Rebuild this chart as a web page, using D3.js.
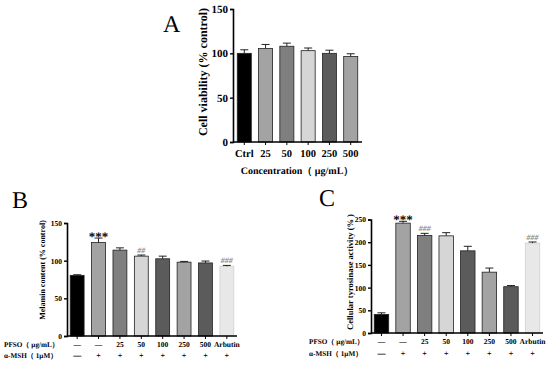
<!DOCTYPE html>
<html>
<head>
<meta charset="utf-8">
<script src="https://cdn.jsdelivr.net/npm/d3@7"></script>
<style>
  body { margin: 0; background: #fff; }
  svg text { font-family: "Liberation Serif", "Times New Roman", serif; font-weight: bold; fill: #000; text-rendering: geometricPrecision; }
</style>
</head>
<body>
<svg id="chart" width="550" height="365"></svg>
<script>
// panel A - cell viability
var catsA = ['Ctrl', '25', '50', '100', '250', '500'];
var valsA = [100, 105.5, 108, 103, 100, 96.5];
var errsA = [4, 4.5, 3.5, 3, 3.5, 3];
var colsA = ['#000000', '#a3a3a3', '#7f7f7f', '#d6d6d6', '#5b5b5b', '#a3a3a3'];

// panel B - melanin content
var valsB = [80.5, 124, 114, 106, 102.5, 98, 97, 92.5];
var errsB = [0.8, 6, 3, 1.5, 3.5, 1, 2.5, 1.2];
var colsB = ['#000000', '#a3a3a3', '#7f7f7f', '#d6d6d6', '#5b5b5b', '#a3a3a3', '#5b5b5b', '#e8e8e8'];
var marksB = ['', '***', '', '##', '', '', '', '###'];

// panel C - tyrosinase activity
var valsC = [41, 242, 215, 214, 181, 134, 102, 198];
var errsC = [3.5, 4, 4.5, 7, 10, 9, 2.5, 2.5];
var colsC = ['#000000', '#a3a3a3', '#7f7f7f', '#d6d6d6', '#5b5b5b', '#a3a3a3', '#5b5b5b', '#e8e8e8'];
var marksC = ['', '***', '###', '', '', '', '', '###'];

// treatment rows under B and C
var pfsoRow = ['\u2014', '\u2014', '25', '50', '100', '250', '500', 'Arbutin'];
var mshRow = ['\u2014', '+', '+', '+', '+', '+', '+', '+'];

var svg = d3.select('#chart');

function drawPanel(opt) {
  var g = svg.append('g');
  var x = d3.scaleBand()
    .domain(d3.range(opt.vals.length))
    .range([opt.x0, opt.x1])
    .paddingInner(opt.padIn)
    .paddingOuter(opt.padOut);
  var y = d3.scaleLinear().domain([0, opt.yMax]).range([opt.y0, opt.y1]);

  // bars
  g.selectAll('rect.bar').data(opt.vals).enter().append('rect')
    .attr('class', 'bar')
    .attr('x', function(d, i) { return x(i); })
    .attr('y', function(d) { return y(d); })
    .attr('width', x.bandwidth())
    .attr('height', function(d) { return y(0) - y(d); })
    .attr('fill', function(d, i) { return opt.cols[i]; })
    .attr('stroke', function(d, i) { return opt.cols[i] === '#e8e8e8' ? '#d0d0d0' : '#222'; })
    .attr('stroke-width', 0.8);

  // error bars (upper only)
  var eb = g.selectAll('g.err').data(opt.vals).enter().append('g').attr('class', 'err');
  eb.append('line')
    .attr('x1', function(d, i) { return x(i) + x.bandwidth() / 2; })
    .attr('x2', function(d, i) { return x(i) + x.bandwidth() / 2; })
    .attr('y1', function(d) { return y(d); })
    .attr('y2', function(d, i) { return y(d + opt.errs[i]); })
    .attr('stroke', '#222').attr('stroke-width', 1);
  eb.append('line')
    .attr('x1', function(d, i) { return x(i) + x.bandwidth() / 2 - 4; })
    .attr('x2', function(d, i) { return x(i) + x.bandwidth() / 2 + 4; })
    .attr('y1', function(d, i) { return y(d + opt.errs[i]); })
    .attr('y2', function(d, i) { return y(d + opt.errs[i]); })
    .attr('stroke', '#222').attr('stroke-width', 1);

  // y axis
  var ya = g.append('g')
    .attr('transform', 'translate(' + opt.x0 + ',0)')
    .call(d3.axisLeft(y).tickValues(opt.yTicks).tickSize(3).tickPadding(2));
  ya.select('.domain').attr('stroke', '#000').attr('stroke-width', 1.6);
  ya.selectAll('.tick line').attr('stroke', '#000').attr('stroke-width', 1.4);
  ya.selectAll('.tick text').style('font-size', opt.tickFont + 'px');

  // x axis
  var xa = g.append('g')
    .attr('transform', 'translate(0,' + opt.y0 + ')')
    .call(d3.axisBottom(x).tickSize(3).tickFormat(function(i) { return opt.cats ? opt.cats[i] : ''; }).tickPadding(opt.xTickPad));
  xa.select('.domain').attr('d', 'M' + opt.x0 + ',0H' + opt.x1).attr('stroke', '#000').attr('stroke-width', 1.6);
  xa.selectAll('.tick line').attr('stroke', '#000').attr('stroke-width', 1);
  xa.selectAll('.tick text').style('font-size', opt.xTickFont + 'px');

  // significance marks
  if (opt.marks) {
    g.selectAll('text.mark').data(opt.vals).enter().append('text')
      .attr('class', 'mark')
      .attr('x', function(d, i) { return x(i) + x.bandwidth() / 2; })
      .attr('y', function(d, i) { return y(d + opt.errs[i]) + (opt.marks[i] === '***' ? 3 : -2); })
      .attr('text-anchor', 'middle')
      .style('font-size', function(d, i) { return opt.marks[i] === '***' ? '13px' : '8px'; })
      .style('fill', function(d, i) { return opt.marks[i] === '***' ? '#000' : '#8a8a8a'; })
      .style('font-style', function(d, i) { return opt.marks[i] === '***' ? 'normal' : 'italic'; })
      .text(function(d, i) { return opt.marks[i]; });
  }

  // treatment rows
  if (opt.rows) {
    g.selectAll('text.r1').data(pfsoRow).enter().append('text')
      .attr('x', function(d, i) { return x(i) + x.bandwidth() / 2; })
      .attr('y', opt.rowY[0])
      .attr('text-anchor', 'middle')
      .style('font-size', '7.5px')
      .text(function(d) { return d; });
    g.selectAll('text.r2').data(mshRow).enter().append('text')
      .attr('x', function(d, i) { return x(i) + x.bandwidth() / 2; })
      .attr('y', opt.rowY[1])
      .attr('text-anchor', 'middle')
      .style('font-size', '8px')
      .text(function(d) { return d; });
    g.append('text').attr('x', opt.rowX).attr('y', opt.rowY[0])
      .style('font-size', '7.2px').text('PFSO\uff08 \u03bcg/mL\uff09');
    g.append('text').attr('x', opt.rowX).attr('y', opt.rowY[1])
      .style('font-size', '7.2px').text('\u03b1-MSH\uff08 1\u03bcM\uff09');
  }

  // y title
  g.append('text')
    .attr('transform', 'translate(' + opt.titleX + ',' + opt.titleY + ') rotate(-90)')
    .attr('text-anchor', 'middle')
    .style('font-size', opt.titleFont + 'px')
    .text(opt.yTitle);

  // panel letter
  g.append('text')
    .attr('x', opt.letterX).attr('y', opt.letterY)
    .style('font-size', '24px').style('font-weight', 'normal')
    .text(opt.letter);
}

drawPanel({
  vals: valsA, errs: errsA, cols: colsA, cats: catsA,
  x0: 233, x1: 362, padIn: 0.34, padOut: 0.2,
  y0: 142, y1: 9, yMax: 150, yTicks: [0, 50, 100, 150],
  tickFont: 11, xTickFont: 10.5, xTickPad: 5,
  yTitle: 'Cell viability (% control)', titleX: 207, titleY: 72, titleFont: 12,
  letter: 'A', letterX: 163, letterY: 32
});
svg.append('text')
  .attr('x', 297).attr('y', 174)
  .attr('text-anchor', 'middle')
  .style('font-size', '10px')
  .text('Concentration\uff08 \u03bcg/mL\uff09');

drawPanel({
  vals: valsB, errs: errsB, cols: colsB, marks: marksB, rows: true,
  x0: 67, x1: 237, padIn: 0.35, padOut: 0.15,
  y0: 336, y1: 223, yMax: 150, yTicks: [0, 50, 100, 150],
  tickFont: 7.5, xTickFont: 7.5, xTickPad: 2, rowX: 4, rowY: [347, 358],
  yTitle: 'Melamin content (% control)', titleX: 45, titleY: 270, titleFont: 8,
  letter: 'B', letterX: 12, letterY: 208
});

drawPanel({
  vals: valsC, errs: errsC, cols: colsC, marks: marksC, rows: true,
  x0: 371, x1: 543, padIn: 0.33, padOut: 0.15,
  y0: 333, y1: 219.5, yMax: 250, yTicks: [0, 50, 100, 150, 200, 250],
  tickFont: 7.5, xTickFont: 7.5, xTickPad: 2, rowX: 309, rowY: [344, 356],
  yTitle: 'Cellular tyrosinase activity (%  )', titleX: 353, titleY: 272, titleFont: 8.5,
  letter: 'C', letterX: 319, letterY: 206
});
</script>
</body>
</html>
